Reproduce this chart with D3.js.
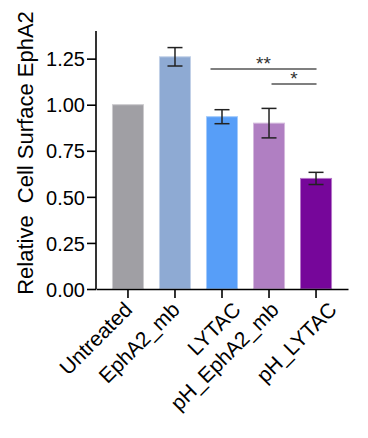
<!DOCTYPE html>
<html>
<head>
<meta charset="utf-8">
<script src="https://cdn.jsdelivr.net/npm/d3@7"></script>
<style>
  body { margin: 0; background: #fff; }
  text { font-family: "Liberation Sans", Arial, sans-serif; fill: #000; }
</style>
</head>
<body>
<div id="chart"></div>
<script>
// data
const categories = ['Untreated', 'EphA2_mb', 'LYTAC', 'pH_EphA2_mb', 'pH_LYTAC'];
const means = [1.00, 1.26, 0.935, 0.90, 0.60];
const errors = [0, 0.05, 0.038, 0.08, 0.033];
const colors = ['#a09fa4', '#8eaad3', '#579ef8', '#b07fc2', '#76069a'];
const yTicks = [0, 0.25, 0.5, 0.75, 1.0, 1.25];
// significance brackets: from, to, label
const sigFrom = ['LYTAC', 'pH_EphA2_mb'];
const sigTo = ['pH_LYTAC', 'pH_LYTAC'];
const sigLabels = ['**', '*'];
const sigLevels = [1.194, 1.112];

const width = 368, height = 438;
const svg = d3.select('#chart').append('svg')
  .attr('width', width)
  .attr('height', height);

const x = d3.scaleBand()
  .domain(categories)
  .range([96, 348])
  .paddingInner(0.34)
  .paddingOuter(0.35);

const y = d3.scaleLinear()
  .domain([0, 1.4])
  .range([289, 31]);

const cx = d => x(d) + x.bandwidth() / 2;

// bars
svg.append('g').selectAll('rect')
  .data(categories)
  .enter().append('rect')
  .attr('x', d => x(d))
  .attr('y', (d, i) => y(means[i]))
  .attr('width', x.bandwidth())
  .attr('height', (d, i) => y(0) - y(means[i]))
  .attr('fill', (d, i) => colors[i])
  .attr('stroke', (d, i) => d3.interpolateRgb(colors[i], '#fff')(0.45))
  .attr('stroke-width', 1);

// error bars
const eb = svg.append('g')
  .attr('stroke', '#222')
  .attr('stroke-width', 1.5)
  .selectAll('g')
  .data(categories.map((d, i) => ({ c: d, m: means[i], e: errors[i] })).filter(d => d.e > 0))
  .enter().append('g');

const cap = 7.5;
eb.append('line')
  .attr('x1', d => cx(d.c)).attr('x2', d => cx(d.c))
  .attr('y1', d => y(d.m - d.e))
  .attr('y2', d => y(d.m + d.e));
eb.append('line')
  .attr('x1', d => cx(d.c) - cap).attr('x2', d => cx(d.c) + cap)
  .attr('y1', d => y(d.m + d.e)).attr('y2', d => y(d.m + d.e));
eb.append('line')
  .attr('x1', d => cx(d.c) - cap).attr('x2', d => cx(d.c) + cap)
  .attr('y1', d => y(d.m - d.e)).attr('y2', d => y(d.m - d.e));

// significance lines (start nudges as drawn in the figure)
const sigStartNudge = [-11.5, 2.5];
const sig = svg.append('g');
sigLabels.forEach((lab, k) => {
  const x1 = cx(sigFrom[k]) + sigStartNudge[k];
  const x2 = cx(sigTo[k]) + 0.5;
  const ly = y(sigLevels[k]);
  sig.append('line')
    .attr('x1', x1).attr('x2', x2)
    .attr('y1', ly).attr('y2', ly)
    .attr('stroke', '#555')
    .attr('stroke-width', 1.5);
  sig.append('text')
    .attr('x', (x1 + x2) / 2)
    .attr('y', ly + 1)
    .attr('text-anchor', 'middle')
    .style('font-size', '19px')
    .style('fill', '#333')
    .text(lab);
});

// y axis
const yAxis = svg.append('g')
  .attr('transform', 'translate(96,0)')
  .call(d3.axisLeft(y).tickValues(yTicks).tickFormat(d3.format('.2f')).tickSize(9).tickPadding(2));
yAxis.select('.domain').attr('d', `M0,${y(1.4)}V${y(0)}`).attr('stroke-width', 1.6);
yAxis.selectAll('.tick line').attr('stroke-width', 1.6);
yAxis.selectAll('text').style('font-size', '20px').attr('dy', '0.36em');

// x axis
const xAxis = svg.append('g')
  .attr('transform', `translate(0,${y(0)})`)
  .call(d3.axisBottom(x).tickSize(9).tickSizeOuter(0));
xAxis.select('.domain').attr('stroke-width', 1.6);
xAxis.selectAll('.tick line').attr('stroke-width', 1.6);
// horizontal nudges of the rotated labels, as placed in the figure
const labelNudge = [5.5, 6, 20, 11, 22];
xAxis.selectAll('text')
  .style('font-size', '21px')
  .attr('text-anchor', 'end')
  .attr('dy', null)
  .attr('y', null)
  .attr('transform', (d, i) => `translate(${labelNudge[i]},22) rotate(-45)`);

// y label (double space kept as in the figure)
svg.append('text')
  .attr('transform', 'translate(33,153) rotate(-90)')
  .attr('text-anchor', 'middle')
  .style('font-size', '22px')
  .style('white-space', 'pre')
  .text('Relative  Cell Surface EphA2');
</script>
</body>
</html>
